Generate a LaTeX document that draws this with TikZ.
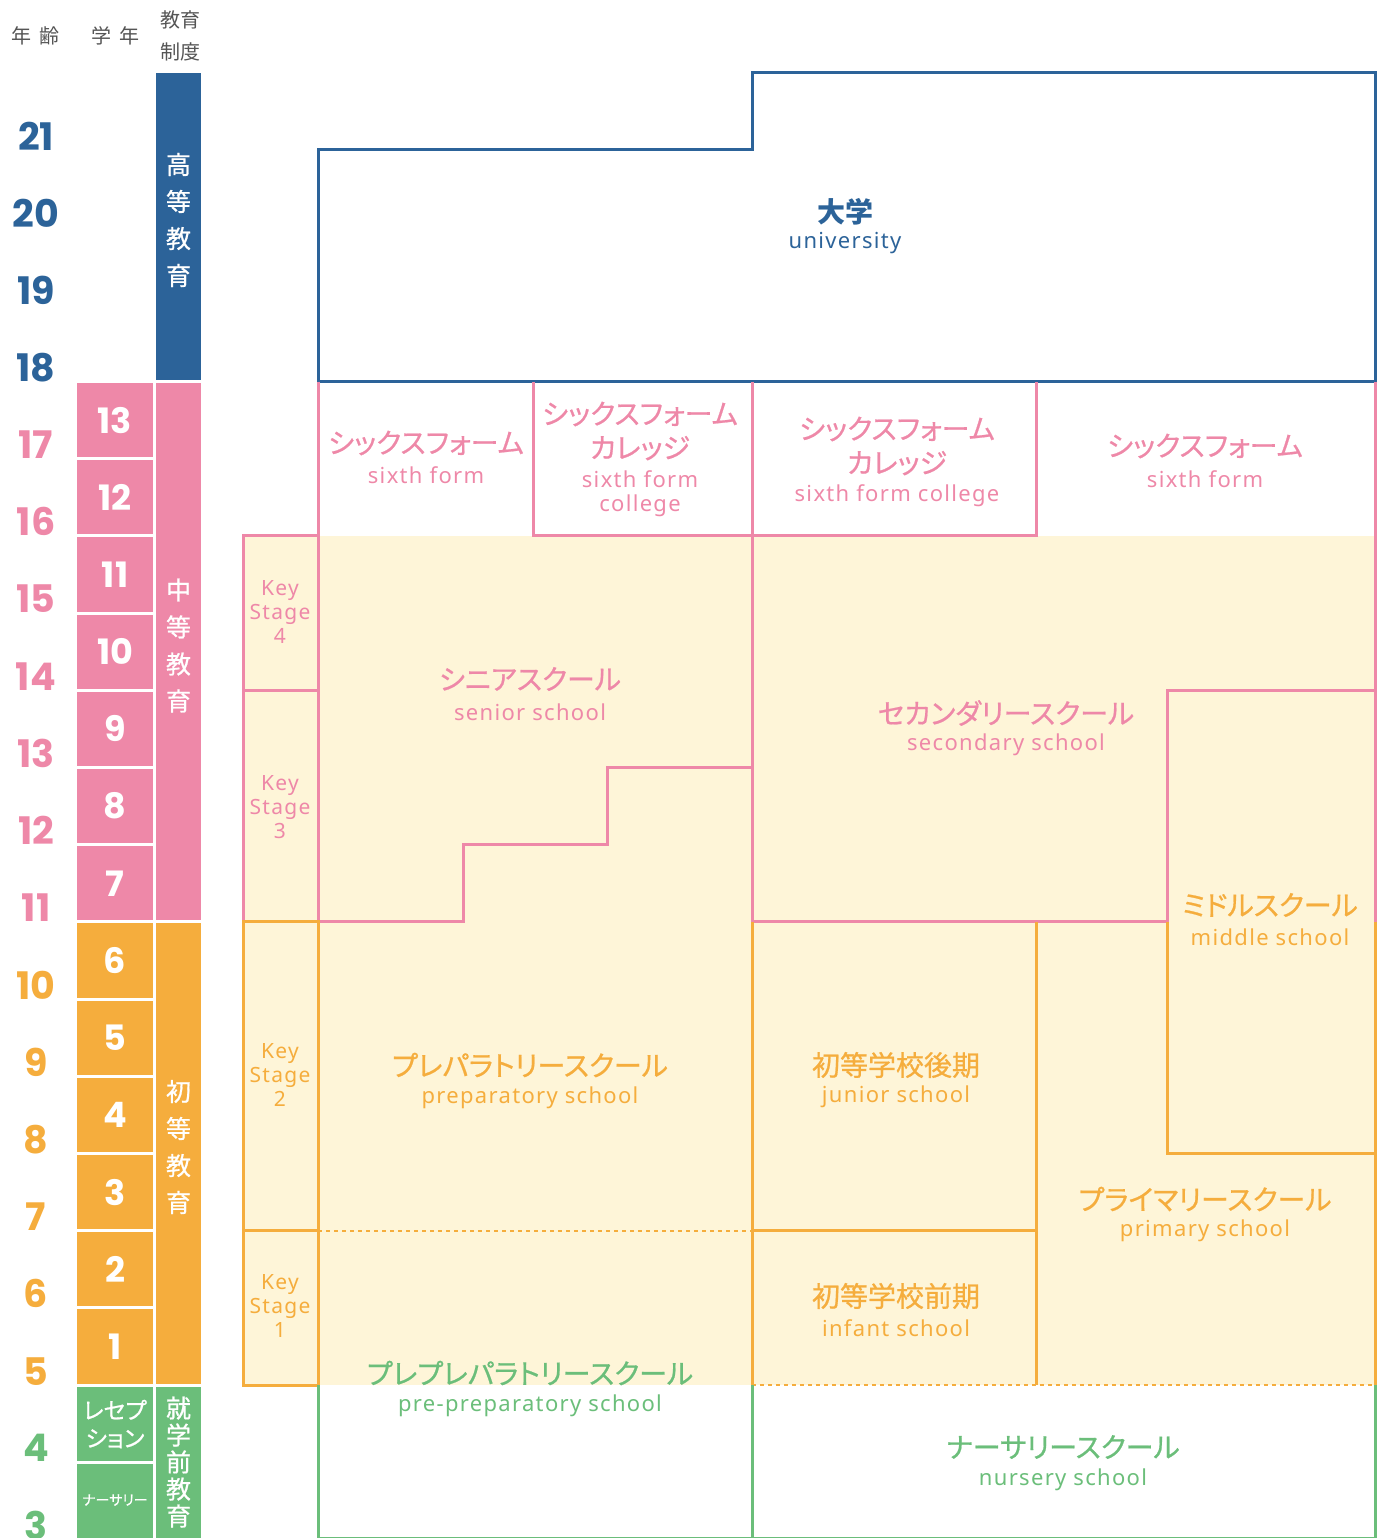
\documentclass[tikz,border=0pt]{standalone}
\usepackage{fontspec}
\setmainfont{Noto Sans CJK JP}
\newfontfamily\jpfont{Noto Sans CJK JP}[FakeBold=0.7, RawFeature=+palt]
\newfontfamily\enfont{Noto Sans}[LetterSpace=6]
\newfontfamily\numfont{Poppins}
\usepackage{tikz}
\usetikzlibrary{positioning}
\definecolor{hiblue}{HTML}{2C6399}
\definecolor{chpink}{HTML}{EE88A8}
\definecolor{shorange}{HTML}{F5AD3D}
\definecolor{prgreen}{HTML}{6BBE7A}
\definecolor{cream}{HTML}{FEF5D8}
\definecolor{hdgray}{HTML}{555555}
\tikzstyle{jp} = [inner sep=0pt, align=center, font=\jpfont\fontsize{28}{34}\selectfont]
\tikzstyle{en} = [inner sep=0pt, align=center, yshift=-2pt, font=\enfont\fontsize{22}{24}\selectfont]
\tikzstyle{head} = [inner sep=0pt, align=center, text=hdgray, font=\fontsize{20}{32}\selectfont]
\tikzstyle{age} = [inner sep=0pt, font=\numfont\bfseries\fontsize{38}{40}\selectfont]
\tikzstyle{grade} = [inner sep=0pt, text=white, font=\numfont\bfseries\fontsize{35}{36}\selectfont]
\tikzstyle{vtext} = [inner sep=0pt, align=center, text=white, font=\jpfont\fontsize{25}{37}\selectfont]
\tikzstyle{keystage} = [inner sep=0pt, align=center, font=\enfont\fontsize{21}{24}\selectfont]
\tikzstyle{wall} = [line width=3pt]
\tikzstyle{dots} = [line width=2pt, dash pattern=on 4pt off 4pt]

\begin{document}
\begin{tikzpicture}[x=1pt, y=-1pt]
\useasboundingbox (0,0) rectangle (1391,1538);

% headings
\node[head] (hage) at (36,36) {年\hspace{8pt}齢};
\node[head] (hgrade) at (115,36) {学\hspace{8pt}年};
\node[head] (hsys) at (180,36) {教育\\制度};

% ages
\node[age, text=hiblue] (a21) at (36,136) {21};
\node[age, text=hiblue] (a20) at (36,213) {20};
\node[age, text=hiblue] (a19) at (36,290) {19};
\node[age, text=hiblue] (a18) at (36,367.5) {18};
\node[age, text=chpink] (a17) at (36,444.7) {17};
\node[age, text=chpink] (a16) at (36,521.9) {16};
\node[age, text=chpink] (a15) at (36,599.1) {15};
\node[age, text=chpink] (a14) at (36,676.3) {14};
\node[age, text=chpink] (a13) at (36,753.5) {13};
\node[age, text=chpink] (a12) at (36,830.7) {12};
\node[age, text=chpink] (a11) at (36,907.9) {11};
\node[age, text=shorange] (a10) at (36,985.1) {10};
\node[age, text=shorange] (a9) at (36,1062.3) {9};
\node[age, text=shorange] (a8) at (36,1139.5) {8};
\node[age, text=shorange] (a7) at (36,1216.7) {7};
\node[age, text=shorange] (a6) at (36,1293.9) {6};
\node[age, text=shorange] (a5) at (36,1371.1) {5};
\node[age, text=prgreen] (a4) at (36,1448.3) {4};
\node[age, text=prgreen] (a3) at (36,1525.5) {3};

% school years
\fill[chpink] (77,383) rectangle (153,457.2);
\fill[chpink] (77,460.2) rectangle (153,534.4);
\fill[chpink] (77,537.4) rectangle (153,611.6);
\fill[chpink] (77,614.6) rectangle (153,688.8);
\fill[chpink] (77,691.8) rectangle (153,766);
\fill[chpink] (77,769) rectangle (153,843.2);
\fill[chpink] (77,846.2) rectangle (153,920.4);
\fill[shorange] (77,923.4) rectangle (153,997.6);
\fill[shorange] (77,1000.6) rectangle (153,1074.8);
\fill[shorange] (77,1077.8) rectangle (153,1152);
\fill[shorange] (77,1155) rectangle (153,1229.2);
\fill[shorange] (77,1232.2) rectangle (153,1306.4);
\fill[shorange] (77,1309.4) rectangle (153,1383.6);
\fill[prgreen] (77,1386.6) rectangle (153,1460.8);
\fill[prgreen] (77,1463.8) rectangle (153,1538);
\node[grade] (y13) at (115,420.1) {13};
\node[grade] (y12) at (115,497.3) {12};
\node[grade] (y11) at (115,574.5) {11};
\node[grade] (y10) at (115,651.7) {10};
\node[grade] (y9) at (115,728.9) {9};
\node[grade] (y8) at (115,806.1) {8};
\node[grade] (y7) at (115,883.3) {7};
\node[grade] (y6) at (115,960.5) {6};
\node[grade] (y5) at (115,1037.7) {5};
\node[grade] (y4) at (115,1114.9) {4};
\node[grade] (y3) at (115,1192.1) {3};
\node[grade] (y2) at (115,1269.3) {2};
\node[grade] (y1) at (115,1346.5) {1};
\node[vtext, font=\jpfont\fontsize{23}{28}\selectfont] (yrec) at (115,1424) {レセプ\\ション};
\node[vtext, font=\jpfont\fontsize{14}{15}\selectfont] (ynur) at (115,1500) {ナーサリー};

% stages of education
\fill[hiblue] (156,72.7) rectangle (201,379.5);
\fill[chpink] (156,383) rectangle (201,920.4);
\fill[shorange] (156,923.4) rectangle (201,1383.6);
\fill[prgreen] (156,1386.6) rectangle (201,1538);
\node[vtext] (higher) at (178.5,220) {高\\等\\教\\育};
\node[vtext] (second) at (178.5,645.5) {中\\等\\教\\育};
\node[vtext] (primary) at (178.5,1147) {初\\等\\教\\育};
\node[vtext, font=\jpfont\fontsize{25}{27}\selectfont] (preschool) at (178.5,1462) {就\\学\\前\\教\\育};

% schools
\fill[cream] (243,535.9) rectangle (1375,1385.1);
\draw[wall, hiblue] (318,381.5) -- (318,149.9) -- (752,149.9) -- (752,72.7) -- (1375,72.7) -- (1375,381.5) -- cycle;
\draw[wall, chpink] (318,381.5) -- (318,921.9);
\draw[wall, chpink] (752,381.5) -- (752,921.9);
\draw[wall, chpink] (1375,381.5) -- (1375,921.9);
\draw[wall, chpink] (533,381.5) -- (533,535.9) -- (752,535.9);
\draw[wall, chpink] (752,535.9) -- (1036,535.9) -- (1036,381.5);
\draw[wall, chpink] (318,921.9) -- (463,921.9) -- (463,844.7) -- (607,844.7) -- (607,767.5) -- (752,767.5);
\draw[wall, chpink] (752,921.9) -- (1167,921.9) -- (1167,690.3) -- (1375,690.3);
\draw[wall, chpink] (243,535.9) rectangle (318,690.3);
\draw[wall, chpink] (243,690.3) rectangle (318,921.9);
\draw[wall, shorange] (243,921.9) rectangle (318,1230.7);
\draw[wall, shorange] (243,1230.7) rectangle (318,1385.1);
\draw[wall, shorange] (318,921.9) -- (318,1385.1);
\draw[wall, shorange] (752,921.9) -- (752,1385.1);
\draw[wall, shorange] (1036,921.9) -- (1036,1385.1);
\draw[wall, shorange] (1375,921.9) -- (1375,1385.1);
\draw[wall, shorange] (1167,921.9) -- (1167,1153.5) -- (1375,1153.5);
\draw[wall, shorange] (752,1230.7) -- (1036,1230.7);
\draw[dots, shorange] (318,1230.7) -- (752,1230.7);
\draw[dots, shorange] (752,1385.1) -- (1375,1385.1);
\draw[wall, prgreen] (318,1385.1) -- (318,1538) -- (1375,1538) -- (1375,1385.1);
\draw[wall, prgreen] (752,1385.1) -- (752,1538);

% key stages
\node[keystage, text=chpink] (ks4) at (280,612) {Key\\Stage\\4};
\node[keystage, text=chpink] (ks3) at (280,807) {Key\\Stage\\3};
\node[keystage, text=shorange] (ks2) at (280,1075) {Key\\Stage\\2};
\node[keystage, text=shorange] (ks1) at (280,1306) {Key\\Stage\\1};

% labels
\node[jp, text=hiblue, font=\bfseries\fontsize{28}{30}\selectfont] (univ) at (845,212) {大学};
\node[en, text=hiblue] (univen) at (845,241) {university};
\node[jp, text=chpink] (sf) at (426,443) {シックスフォーム};
\node[en, text=chpink] (sfen) at (426,473) {sixth form};
\node[jp, text=chpink] (sfc) at (640,431) {シックスフォーム\\カレッジ};
\node[en, text=chpink] (sfcen) at (640,492) {sixth form\\college};
\node[jp, text=chpink] (sfcb) at (897,446) {シックスフォーム\\カレッジ};
\node[en, text=chpink] (sfcben) at (897,494) {sixth form college};
\node[jp, text=chpink] (sfb) at (1205,446) {シックスフォーム};
\node[en, text=chpink] (sfben) at (1205,477) {sixth form};
\node[jp, text=chpink] (senior) at (530,679) {シニアスクール};
\node[en, text=chpink] (senioren) at (530,710) {senior school};
\node[jp, text=chpink] (secondary) at (1006,713) {セカンダリースクール};
\node[en, text=chpink] (secondaryen) at (1006,743) {secondary school};
\node[jp, text=shorange] (middle) at (1270,905) {ミドルスクール};
\node[en, text=shorange] (middleen) at (1270,935) {middle school};
\node[jp, text=shorange] (prep) at (530,1065) {プレパラトリースクール};
\node[en, text=shorange] (prepen) at (530,1096) {preparatory school};
\node[jp, text=shorange] (junior) at (896,1065) {初等学校後期};
\node[en, text=shorange] (junioren) at (896,1095) {junior school};
\node[jp, text=shorange] (infant) at (896,1296) {初等学校前期};
\node[en, text=shorange] (infanten) at (896,1326) {infant school};
\node[jp, text=shorange] (prim) at (1205,1199) {プライマリースクール};
\node[en, text=shorange] (primen) at (1205,1229) {primary school};
\node[jp, text=prgreen] (preprep) at (530,1373) {プレプレパラトリースクール};
\node[en, text=prgreen] (preprepen) at (530,1404) {pre-preparatory school};
\node[jp, text=prgreen] (nursery) at (1063,1447) {ナーサリースクール};
\node[en, text=prgreen] (nurseryen) at (1063,1478) {nursery school};
\end{tikzpicture}
\end{document}
